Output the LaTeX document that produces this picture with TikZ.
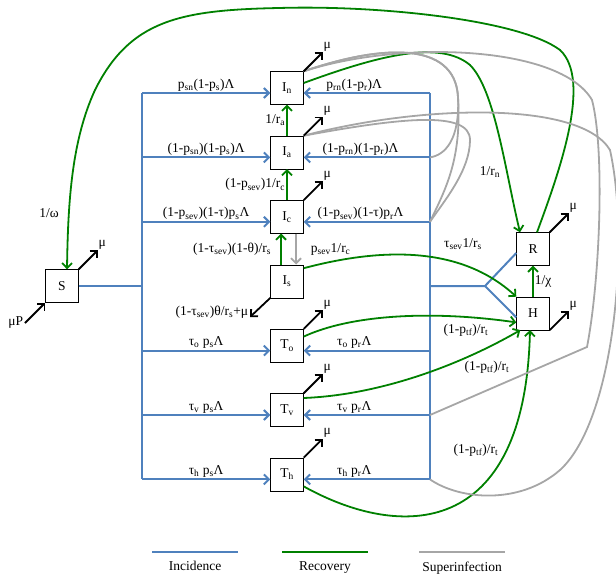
\documentclass[tikz,border=0pt]{standalone}
\usepackage{fontspec}
\setmainfont{Liberation Serif}
\usetikzlibrary{arrows.meta, positioning}
\definecolor{incblue}{RGB}{79,129,189}
\definecolor{recgreen}{RGB}{0,128,0}
\definecolor{supgray}{RGB}{166,166,166}
\newcommand{\sbs}[1]{\textsubscript{#1}}

\begin{document}
\begin{tikzpicture}[
    x=1pt, y=-1pt,
    node distance=31pt,
    font=\fontsize{13.5}{16}\selectfont,
    >={Straight Barb[length=5pt,width=10pt]},
    comp/.style={draw, thin, fill=white, minimum size=33pt, inner sep=0pt},
    inc/.style={draw=incblue, line width=2pt},
    rec/.style={draw=recgreen, line width=1.8pt},
    sup/.style={draw=supgray, line width=1.8pt},
    death/.style={draw=black, line width=1.8pt, ->},
    lbl/.style={inner sep=1pt}
  ]
  \useasboundingbox (0,0) rectangle (616,575);

  % compartments
  \node[comp] (In) at (287,88) {I\sbs{n}};
  \node[comp, below=of In] (Ia) {I\sbs{a}};
  \node[comp, below=of Ia] (Ic) {I\sbs{c}};
  \node[comp, below=of Ic] (Is) {I\sbs{s}};
  \node[comp, below=of Is] (To) {T\sbs{o}};
  \node[comp, below=of To] (Tv) {T\sbs{v}};
  \node[comp, below=of Tv] (Th) {T\sbs{h}};
  \node[comp] (S) at (62,286) {S};
  \node[comp] (R) at (533,249) {R};
  \node[comp, below=of R] (H) {H};

  % incidence buses
  \coordinate (lS) at (142,286);
  \coordinate (rS) at (430,286);
  \coordinate (fork) at (485,286);
  \foreach \b in {In,Ia,Ic,To,Tv,Th} {
    \coordinate[yshift=-5pt] (l\b) at (lS |- \b.west);
    \coordinate[yshift=-5pt] (r\b) at (rS |- \b.east);
  }
  \draw[inc] (S) -- (lS);
  \draw[inc] (lIn) -- (lTh);
  \draw[inc] (rIn) -- (rTh);
  \draw[inc] (rS) -- (fork) -- ([yshift=-4pt]R.west);
  \draw[inc] (fork) -- ([yshift=-4pt]H.west);

  \draw[inc,->] (lIn) -- node[lbl, above] (sIn) {p\sbs{sn}(1-p\sbs{s})Λ} (lIn -| In.west);
  \draw[inc,->] (lIa) -- node[lbl, above] (sIa) {(1-p\sbs{sn})(1-p\sbs{s})Λ} (lIa -| Ia.west);
  \draw[inc,->] (lIc) -- node[lbl, above] (sIc) {(1-p\sbs{sev})(1-τ)p\sbs{s}Λ} (lIc -| Ic.west);
  \draw[inc,->] (lTo) -- node[lbl, above] (sTo) {τ\sbs{o} p\sbs{s}Λ} (lTo -| To.west);
  \draw[inc,->] (lTv) -- node[lbl, above] (sTv) {τ\sbs{v} p\sbs{s}Λ} (lTv -| Tv.west);
  \draw[inc,->] (lTh) -- node[lbl, above] (sTh) {τ\sbs{h} p\sbs{s}Λ} (lTh -| Th.west);

  \draw[inc,->] (rIn) -- node[lbl, above, pos=0.6] (pIn) {p\sbs{rn}(1-p\sbs{r})Λ} (rIn -| In.east);
  \draw[inc,->] (rIa) -- node[lbl, above, pos=0.55] (pIa) {(1-p\sbs{rn})(1-p\sbs{r})Λ} (rIa -| Ia.east);
  \draw[inc,->] (rIc) -- node[lbl, above, pos=0.55] (pIc) {(1-p\sbs{sev})(1-τ)p\sbs{r}Λ} (rIc -| Ic.east);
  \draw[inc,->] (rTo) -- node[lbl, above, pos=0.6] (pTo) {τ\sbs{o} p\sbs{r}Λ} (rTo -| To.east);
  \draw[inc,->] (rTv) -- node[lbl, above, pos=0.6] (pTv) {τ\sbs{v} p\sbs{r}Λ} (rTv -| Tv.east);
  \draw[inc,->] (rTh) -- node[lbl, above, pos=0.6] (pTh) {τ\sbs{h} p\sbs{r}Λ} (rTh -| Th.east);

  % recovery
  \draw[rec,->] (Ia) -- node[lbl, left] (ra) {1/r\sbs{a}} (In);
  \draw[rec,->] (Ic) -- node[lbl, left] (rc) {(1-p\sbs{sev})1/r\sbs{c}} (Ia);
  \draw[rec,->] ([xshift=-6pt]Is.north) -- node[lbl, left, xshift=-8pt] (rs) {(1-τ\sbs{sev})(1-θ)/r\sbs{s}} ([xshift=-6pt]Ic.south);
  \draw[sup,->] ([xshift=9pt]Ic.south) -- node[lbl, right, xshift=13pt] (cs) {p\sbs{sev}1/r\sbs{c}} ([xshift=9pt]Is.north);
  \draw[rec,->] ([yshift=5pt]In.east) .. controls (380,55) and (440,40) .. (470,65)
    .. controls (495,90) and (505,170) .. ([xshift=-13pt]R.north);
  \node[lbl] (rn) at (490,172) {1/r\sbs{n}};
  \draw[rec,->] ([xshift=4pt]R.north) .. controls (560,170) and (592,80) .. (560,50)
    .. controls (520,20) and (380,5) .. (279,8)
    .. controls (180,10) and (130,20) .. (95,90)
    .. controls (72,140) and (68,200) .. ([xshift=5pt]S.north);
  \node[lbl] (om) at (49,213) {1/ω};
  \draw[rec,->] ([yshift=13pt]Is.east) .. controls (380,248) and (460,245) .. (H.north west);
  \node[lbl] (ts) at (463,244) {τ\sbs{sev}1/r\sbs{s}};
  \draw[rec,->] ([yshift=9pt]To.east) .. controls (350,315) and (430,310) .. ([yshift=-9pt]H.west);
  \draw[rec,->] ([yshift=12pt]Tv.east) .. controls (380,395) and (460,365) .. ([xshift=4pt]H.south west);
  \draw[rec,->] ([yshift=-12pt]Th.east) .. controls (400,540) and (525,540) .. ([xshift=-3pt]H.south);
  \node[lbl] (tfo) at (466,330) {(1-p\sbs{tf})/r\sbs{t}};
  \node[lbl] (tfv) at (487,367) {(1-p\sbs{tf})/r\sbs{t}};
  \node[lbl] (tfh) at (476,450) {(1-p\sbs{tf})/r\sbs{t}};
  \draw[rec,->] (H) -- node[lbl, right] (chi) {1/χ} (R);

  % superinfection
  \coordinate (jct) at (587,347);
  \draw[sup] (In.north east) .. controls (380,45) and (455,40) .. (458,97)
    .. controls (460,140) and (445,155) .. (rIa);
  \draw[sup] (In.north east) .. controls (380,45) and (455,40) .. (458,97)
    .. controls (462,160) and (445,190) .. (rIc);
  \draw[sup] (Ia.north east) .. controls (400,118) and (470,110) .. (470,140)
    .. controls (470,170) and (445,200) .. (rIc);
  \draw[sup] (In.north east) .. controls (400,40) and (560,45) .. (592,100)
    .. controls (605,150) and (600,280) .. (jct) -- (rTv);
  \draw[sup] (Ia.north east) .. controls (420,105) and (580,100) .. (610,150)
    .. controls (630,240) and (615,420) .. (560,470)
    .. controls (520,505) and (460,500) .. (rTh);

  % deaths
  \foreach \b in {In,Ia,Ic,To,Tv,Th,S,R}
    \draw[death] (\b.north east) -- ++(19,-19) node[lbl, above right, inner sep=0pt] {μ};
  \draw[death] (H.south east) -- ++(19,-19) node[lbl, above right, inner sep=0pt] {μ};
  \coordinate (isd) at (250,317);
  \draw[death] (Is.south west) -- (isd) node[lbl, left, yshift=5pt] (ds) {(1-τ\sbs{sev})θ/r\sbs{s}+μ};
  \coordinate (birth) at (25,323);
  \draw[death] (birth) node[lbl, left] (bP) {μP} -- (S.south west);

  % legend
  \coordinate (kInc) at (152,552);
  \coordinate (kRec) at (282,552);
  \coordinate (kSup) at (419,552);
  \draw[inc, line width=2.5pt] (kInc) -- node[below=5pt] (tInc) {Incidence} ++(86,0);
  \draw[rec, line width=2.8pt] (kRec) -- node[below=5pt] (tRec) {Recovery} ++(86,0);
  \draw[sup, line width=2.5pt] (kSup) -- node[below=5pt] (tSup) {Superinfection} ++(86,0);
\end{tikzpicture}
\end{document}
